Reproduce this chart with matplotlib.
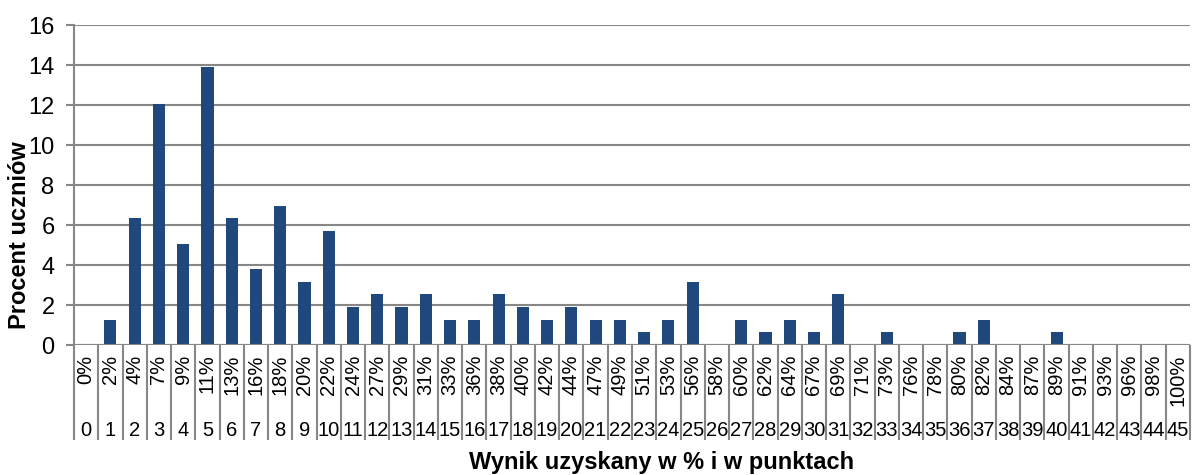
import matplotlib.pyplot as plt
from matplotlib.transforms import blended_transform_factory

plt.rcParams['font.family'] = ['Liberation Sans', 'DejaVu Sans']

# Score in points (0-45) and matching percent labels
points = list(range(46))
pct_labels = ["0%", "2%", "4%", "7%", "9%", "11%", "13%", "16%", "18%", "20%",
              "22%", "24%", "27%", "29%", "31%", "33%", "36%", "38%", "40%", "42%",
              "44%", "47%", "49%", "51%", "53%", "56%", "58%", "60%", "62%", "64%",
              "67%", "69%", "71%", "73%", "76%", "78%", "80%", "82%", "84%", "87%",
              "89%", "91%", "93%", "96%", "98%", "100%"]
# Percent of students per score
share = [0, 1.27, 6.33, 12.03, 5.06, 13.92, 6.33, 3.80, 6.96, 3.16,
         5.70, 1.90, 2.53, 1.90, 2.53, 1.27, 1.27, 2.53, 1.90, 1.27,
         1.90, 1.27, 1.27, 0.63, 1.27, 3.16, 0, 1.27, 0.63, 1.27,
         0.63, 2.53, 0, 0.63, 0, 0, 0.63, 1.27, 0, 0,
         0.63, 0, 0, 0, 0, 0]

grid_col = "#878787"
bar_col = "#1F497D"

fig = plt.figure(figsize=(11.94, 4.75), dpi=100)
ax = fig.add_axes([74 / 1194, 130 / 475, 1116 / 1194, 320 / 475])

ax.bar(points, share, width=0.5, color=bar_col, zorder=3)

ax.set_xlim(-0.5, 45.5)
ax.set_ylim(0, 16)
ax.set_yticks(range(0, 17, 2))
ax.tick_params(axis="y", labelsize=17, length=6, width=1.5, color=grid_col, pad=8)
ax.tick_params(axis="x", bottom=False, labelbottom=False)
ax.yaxis.grid(True, color=grid_col, linewidth=1.5, zorder=0)
for s in ["top", "right", "bottom"]:
    ax.spines[s].set_visible(False)
ax.spines["left"].set_color(grid_col)
ax.spines["left"].set_linewidth(1.5)
ax.axhline(0, color=grid_col, linewidth=1.5, zorder=4)

# two-level category axis: separators, percent labels, point labels
trans = blended_transform_factory(ax.transData, ax.transAxes)
seps = [p - 0.5 for p in points] + [45.5]
ax.vlines(seps, -0.297, 0, transform=trans, color=grid_col, linewidth=1.5, clip_on=False)
for p, lab in zip(points, pct_labels):
    ax.text(p, -0.03, lab, transform=trans, rotation=90, ha="center", va="top", fontsize=14.5)
    ax.text(p, -0.266, str(p), transform=trans, ha="center", va="center", fontsize=14.5)

fig.text(20 / 1194, 1 - 235 / 475, "Procent uczniów", rotation=90, ha="center", va="center",
         fontsize=17, fontweight="bold")
fig.text(662 / 1194, 1 - 462 / 475, "Wynik uzyskany w % i w punktach", ha="center", va="center",
         fontsize=17, fontweight="bold")

fig.savefig("out.png", dpi=100)
